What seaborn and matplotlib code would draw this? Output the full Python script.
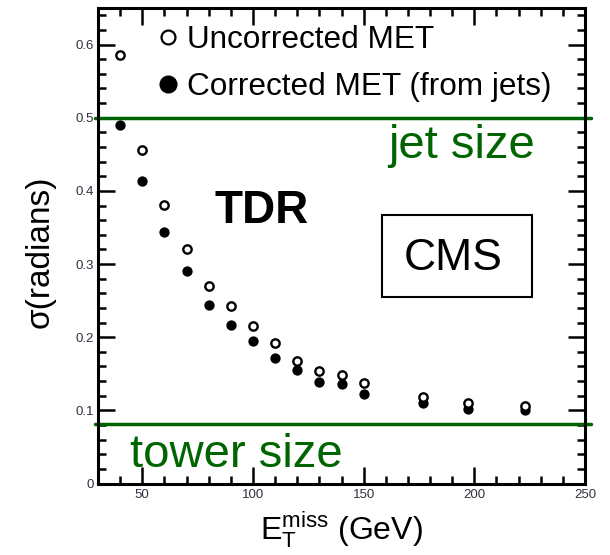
import matplotlib
matplotlib.use("Agg")
import matplotlib.pyplot as plt
import numpy as np
import pandas as pd
import seaborn as sns
from matplotlib.lines import Line2D
from matplotlib.patches import Rectangle
from matplotlib.ticker import FixedLocator, MultipleLocator, FuncFormatter

# MET bins (GeV) and phi resolution (radians)
met_bins = [40, 50, 60, 70, 80, 90, 100, 110, 120, 130, 140, 150, 177, 197, 223]
sigma_uncorrected = [0.586, 0.456, 0.381, 0.320, 0.270, 0.243, 0.215, 0.192,
                     0.167, 0.154, 0.148, 0.137, 0.118, 0.110, 0.106]
sigma_corrected = [0.490, 0.413, 0.344, 0.290, 0.244, 0.217, 0.195, 0.171,
                   0.155, 0.139, 0.136, 0.123, 0.110, 0.102, 0.100]

jet_size = 0.5
tower_size = 0.082

x_ticks = [50, 100, 150, 200, 250]
series_labels = ["Uncorrected MET", "Corrected MET (from jets)"]

GREEN = "#006400"

sns.set_style("ticks")
plt.rcParams["font.family"] = ["Liberation Sans", "DejaVu Sans"]
plt.rcParams["text.color"] = "black"
plt.rcParams["axes.labelcolor"] = "black"
plt.rcParams["mathtext.fontset"] = "custom"
plt.rcParams["mathtext.rm"] = "Liberation Sans"
plt.rcParams["mathtext.it"] = "Liberation Sans:italic"

df = pd.DataFrame({"met": met_bins,
                   "uncorrected": sigma_uncorrected,
                   "corrected": sigma_corrected})

fig = plt.figure(figsize=(6.1, 5.55), dpi=100)
ax = fig.add_axes([98 / 610, (555 - 483.5) / 555, 487 / 610, 475.5 / 555])

sns.scatterplot(data=df, x="met", y="corrected", marker="o", s=55,
                color="black", edgecolor="black", linewidth=0,
                ax=ax, legend=False, zorder=3)
sns.scatterplot(data=df, x="met", y="uncorrected", marker="o", s=36,
                color="white", edgecolor="black", linewidth=1.7,
                ax=ax, legend=False, zorder=4)

ax.set_xlim(30, 250)
ax.set_ylim(0, 0.65)

ax.xaxis.set_major_locator(FixedLocator(x_ticks))
ax.xaxis.set_minor_locator(MultipleLocator(10))
ax.yaxis.set_major_locator(MultipleLocator(0.1))
ax.yaxis.set_minor_locator(MultipleLocator(0.02))
ax.yaxis.set_major_formatter(FuncFormatter(lambda v, p: "0" if abs(v) < 1e-9 else f"{v:.1f}"))

ax.tick_params(which="both", direction="in", top=True, right=True,
               width=1.8, color="black", labelsize=9.5, labelcolor="#303040")
ax.tick_params(which="major", length=12)
ax.tick_params(which="minor", length=6)
ax.tick_params(axis="x", which="major", pad=4)
ax.tick_params(axis="y", which="major", pad=3)
for sp in ax.spines.values():
    sp.set_linewidth(2.2)
    sp.set_color("black")

# resolution reference lines
ax.axhline(jet_size, xmin=-0.007, xmax=1.012, color=GREEN, lw=2.5, clip_on=False, zorder=2)
ax.axhline(tower_size, xmin=-0.007, xmax=1.012, color=GREEN, lw=2.5, clip_on=False, zorder=2)
ax.text(161, 0.445, "jet size", color=GREEN, fontsize=34, ha="left", va="baseline")
ax.text(44.5, 0.0226, "tower size", color=GREEN, fontsize=34, ha="left", va="baseline")

ax.text(82.8, 0.356, "TDR", fontsize=33, fontweight="bold", ha="left", va="baseline")
ax.add_patch(Rectangle((0.583, 0.393), 0.308, 0.172, transform=ax.transAxes,
                       fill=False, edgecolor="black", lw=1.5, zorder=5))
ax.text(0.73, 0.449, "CMS", fontsize=32, ha="center", va="baseline", transform=ax.transAxes)

handles = [
    Line2D([], [], ls="", marker="o", ms=10, mfc="white", mec="black", mew=1.6),
    Line2D([], [], ls="", marker="o", ms=12, mfc="black", mec="black"),
]
ax.legend(handles, series_labels, loc="upper left", bbox_to_anchor=(0.1237, 0.965),
          frameon=False, fontsize=22.7, handlelength=0.6, handletextpad=0.3,
          labelspacing=0.54, borderpad=0, borderaxespad=0)

ax.set_xlabel(r"$\mathregular{E_T^{miss}}$ (GeV)", fontsize=23)
ax.set_ylabel("σ(radians)", fontsize=24)
ax.xaxis.set_label_coords(0.5, -0.055)
ax.yaxis.set_label_coords(-0.086, 0.487)

fig.savefig("out.png", dpi=100)
